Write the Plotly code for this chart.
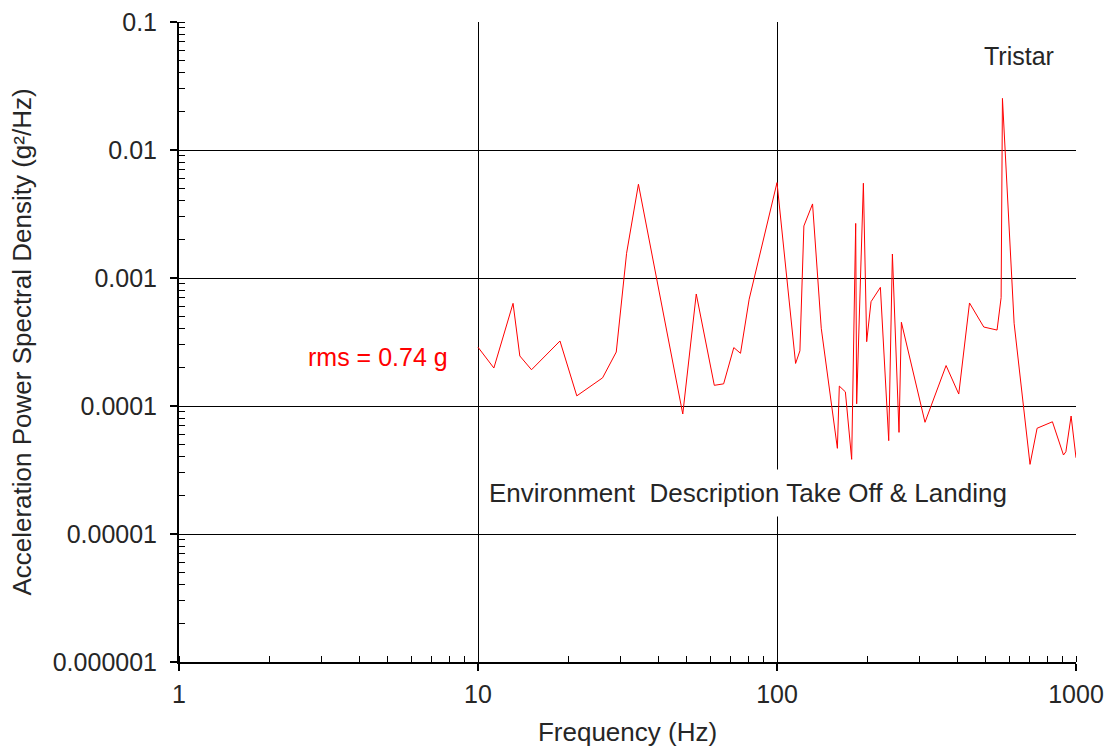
import plotly.graph_objects as go

# Acceleration PSD, Tristar take-off & landing environment
freq_hz = [10, 11.3, 13.1, 13.8, 15.1, 18.8, 21.4, 26.1, 29.0, 31.4, 34.4,
           48.4, 53.7, 61.7, 66.3, 71.7, 75.5, 80.7, 100, 115.4, 119.3, 123.0,
           131.5, 140.6, 159.2, 161.6, 169.3, 177.7, 183.3, 184.7, 194.5, 199.5,
           206.3, 221.7, 236.4, 243.2, 255.9, 260.6, 312.6, 367.7, 405.4, 440.4,
           491.5, 544.5, 561.8, 567.5, 620.9, 701.8, 741, 834, 908, 925, 963, 1000]
psd_g2hz = [2.88e-4, 1.98e-4, 6.34e-4, 2.46e-4, 1.92e-4, 3.22e-4, 1.20e-4,
            1.66e-4, 2.64e-4, 1.56e-3, 5.4e-3, 8.66e-5, 7.5e-4, 1.45e-4,
            1.49e-4, 2.86e-4, 2.58e-4, 6.83e-4, 5.56e-3, 2.15e-4, 2.70e-4,
            2.55e-3, 3.79e-3, 4.05e-4, 4.67e-5, 1.43e-4, 1.29e-4, 3.83e-5,
            2.67e-3, 1.04e-4, 5.5e-3, 3.18e-4, 6.53e-4, 8.45e-4, 5.36e-5,
            1.54e-3, 6.22e-5, 4.51e-4, 7.46e-5, 2.07e-4, 1.24e-4, 6.38e-4,
            4.14e-4, 3.92e-4, 7.02e-4, 2.53e-2, 4.43e-4, 3.5e-5, 6.7e-5,
            7.53e-5, 4.14e-5, 4.39e-5, 8.35e-5, 3.94e-5]

x_ticks = [1, 10, 100, 1000]
x_tick_text = ["1", "10", "100", "1000"]
y_ticks = [1e-6, 1e-5, 1e-4, 1e-3, 1e-2, 1e-1]
y_tick_text = ["0.000001", "0.00001", "0.0001", "0.001", "0.01", "0.1"]

FONT = "Liberation Sans, Arial, sans-serif"
TEXT = "#262626"

fig = go.Figure(go.Scatter(
    x=freq_hz, y=psd_g2hz, mode="lines",
    line=dict(color="#ff0000", width=1), showlegend=False,
))

axis_common = dict(
    showline=True, linecolor="black", linewidth=2,
    showgrid=True, gridcolor="black", gridwidth=1,
    ticks="outside", ticklen=7, tickwidth=1.5, tickcolor="black",
    tickfont=dict(family=FONT, size=25, color=TEXT),
    zeroline=False, mirror=False, automargin=False,
    minor=dict(ticks="inside", ticklen=6, tickwidth=1.2, tickcolor="black",
               dtick="D1", showgrid=False),
)

fig.update_xaxes(type="log", range=[0, 3], tickvals=x_ticks,
                 ticktext=x_tick_text, ticklabelstandoff=2,
                 title=dict(text="Frequency (Hz)", standoff=16,
                            font=dict(family=FONT, size=26, color=TEXT)),
                 **axis_common)
fig.update_yaxes(type="log", range=[-6, -1], tickvals=y_ticks,
                 ticktext=y_tick_text, ticklabelstandoff=8,
                 title=dict(text="Acceleration Power Spectral Density (g²/Hz)",
                            standoff=14,
                            font=dict(family=FONT, size=26, color=TEXT)),
                 **axis_common)

fig.add_annotation(xref="paper", yref="paper", x=0.937, y=0.947,
                   xanchor="center", yanchor="middle",
                   text="Tristar", showarrow=False,
                   font=dict(family=FONT, size=25, color=TEXT))
fig.add_annotation(xref="paper", yref="paper", x=0.222, y=0.477,
                   xanchor="center", yanchor="middle",
                   text="rms = 0.74 g", showarrow=False,
                   font=dict(family=FONT, size=25, color="#ff0000"))
fig.add_annotation(xref="paper", yref="paper", x=0.634, y=0.264,
                   xanchor="center", yanchor="middle",
                   text="Environment  Description Take Off & Landing",
                   showarrow=False, bgcolor="white", borderpad=3, height=40,
                   font=dict(family=FONT, size=26, color=TEXT))

fig.update_layout(
    width=1114, height=749,
    margin=dict(l=179, r=38, t=22, b=87),
    paper_bgcolor="white", plot_bgcolor="white",
    font=dict(family=FONT, color=TEXT),
)

fig.write_html("out.html")
